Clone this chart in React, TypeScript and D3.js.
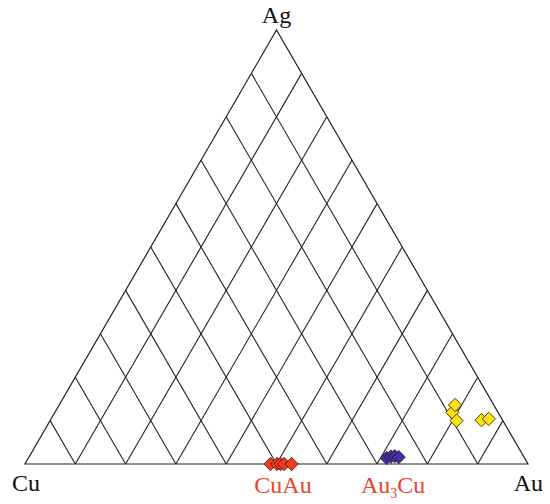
import { useEffect, useRef } from "react";
import * as d3 from "d3";

// compositions in percent
const cuAuAu = [48.8, 50.1, 50.8, 51.5, 53.0];
const cuAuAg = [0, 0, 0, 0, 0];

const au3CuAu = [71.2, 71.9, 72.6, 73.5];
const au3CuAg = [1.4, 1.7, 1.8, 1.6];

const alloyAu = [79.0, 78.7, 80.8, 85.7, 87.0];
const alloyAg = [11.9, 13.6, 10.0, 10.1, 10.4];

const GRID_STEPS = [10, 20, 30, 40, 50, 60, 70, 80, 90];

const W = 550;
const H = 504;
const BASE = { left: 25, right: 528, y: 464, top: 30 };

export default function App() {
  const svgRef = useRef<SVGSVGElement>(null);

  useEffect(() => {
    if (!svgRef.current) return;
    const svg = d3.select(svgRef.current);
    svg.selectAll("*").remove();

    // x runs with Au + Ag/2, y with Ag
    const x = d3.scaleLinear().domain([0, 100]).range([BASE.left, BASE.right]);
    const y = d3.scaleLinear().domain([0, 100]).range([BASE.y, BASE.top]);
    const px = (au: number, ag: number) => x(au + ag / 2);
    const py = (ag: number) => y(ag);

    const g = svg.append("g");

    // grid: lines of constant Au and constant Cu
    GRID_STEPS.forEach((v) => {
      g.append("line")
        .attr("x1", px(v, 0)).attr("y1", py(0))
        .attr("x2", px(v, 100 - v)).attr("y2", py(100 - v))
        .attr("stroke", "#222").attr("stroke-width", 1.1);
      g.append("line")
        .attr("x1", px(100 - v, 0)).attr("y1", py(0))
        .attr("x2", px(0, 100 - v)).attr("y2", py(100 - v))
        .attr("stroke", "#222").attr("stroke-width", 1.1);
    });

    // outline
    const corners = [[0, 0], [100, 0], [0, 100]].map(([au, ag]) => [px(au, ag), py(ag)] as [number, number]);
    g.append("path")
      .attr("d", d3.line()(corners) + "Z")
      .attr("fill", "none")
      .attr("stroke", "#222")
      .attr("stroke-width", 1.2);

    const diamond = d3.symbol().type(d3.symbolSquare).size(88);
    const drawSet = (au: number[], ag: number[], fill: string) => {
      g.append("g")
        .selectAll("path")
        .data(au.map((a, i) => ({ au: a, ag: ag[i] })))
        .join("path")
        .attr("d", diamond)
        .attr("transform", (d) => `translate(${px(d.au, d.ag)},${py(d.ag)}) rotate(45)`)
        .attr("fill", fill)
        .attr("stroke", "#3a1a10")
        .attr("stroke-width", 0.8);
    };
    drawSet(cuAuAu, cuAuAg, "#f23a1c");
    drawSet(au3CuAu, au3CuAg, "#3d2fa8");
    drawSet(alloyAu, alloyAg, "#ffe30a");

    const font = "'Liberation Serif', 'Times New Roman', serif";
    const label = (tx: number, ty: number, text: string, color: string, anchor = "middle") =>
      svg.append("text")
        .attr("x", tx).attr("y", ty)
        .attr("text-anchor", anchor)
        .style("font-family", font)
        .style("font-size", "24px")
        .attr("fill", color)
        .text(text);

    label(px(0, 100), 23, "Ag", "#111");
    label(px(0, 0), 491, "Cu", "#111", "start").attr("x", 12);
    label(px(100, 0), 491, "Au", "#111", "end").attr("x", 543);
    label(283, 493, "CuAu", "#e8452c");

    const t = svg.append("text")
      .attr("x", 361).attr("y", 493)
      .style("font-family", font)
      .style("font-size", "24px")
      .attr("fill", "#e8452c");
    t.append("tspan").text("Au");
    t.append("tspan").attr("dy", 5).style("font-size", "14px").text("3");
    t.append("tspan").attr("dy", -5).text("Cu");
  }, []);

  return (
    <svg
      ref={svgRef}
      width={W}
      height={H}
      style={{ position: "absolute", left: 0, top: 0, background: "#fff" }}
    />
  );
}
